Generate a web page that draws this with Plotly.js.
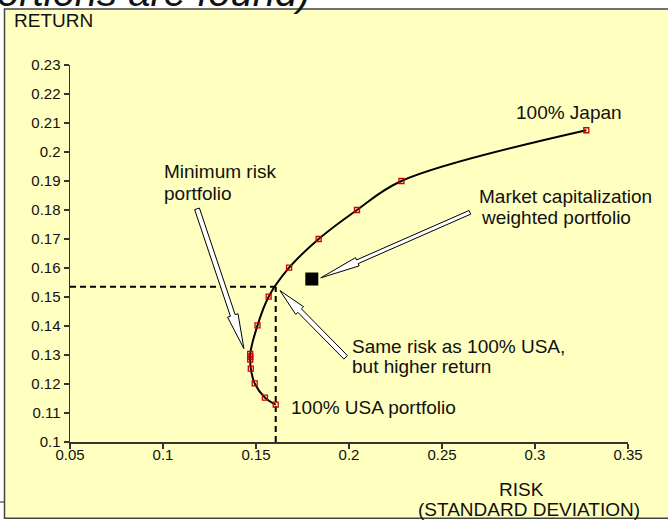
<!DOCTYPE html>
<html>
<head>
<meta charset="utf-8">
<script src="https://cdn.plot.ly/plotly-3.0.1.min.js"></script>
<style>html,body{margin:0;padding:0;background:#fff;}#chart{width:668px;height:521px;}</style>
</head>
<body>
<div id="chart"></div>
<script>
// ---- data ----
const frontierRisk   = [0.1606, 0.1548, 0.1493, 0.1472, 0.1469, 0.1469, 0.1469, 0.1508, 0.1568, 0.1678, 0.1837, 0.2043, 0.2282, 0.3276];
const frontierReturn = [0.1129, 0.1153, 0.1202, 0.1253, 0.1284, 0.1294, 0.1304, 0.1402, 0.1501, 0.1601, 0.1700, 0.1800, 0.1900, 0.2075];
const marketCapRisk = [0.180];
const marketCapReturn = [0.1562];
const sameRiskX = 0.1606;     // risk of 100% USA
const sameRiskY = 0.1535;     // higher return at same risk
const xTickVals = [0.05, 0.1, 0.15, 0.2, 0.25, 0.3, 0.35];
const xTickText = ["0.05", "0.1", "0.15", "0.2", "0.25", "0.3", "0.35"];
const yTickVals = [0.1, 0.11, 0.12, 0.13, 0.14, 0.15, 0.16, 0.17, 0.18, 0.19, 0.2, 0.21, 0.22, 0.23];
const yTickText = ["0.1", "0.11", "0.12", "0.13", "0.14", "0.15", "0.16", "0.17", "0.18", "0.19", "0.2", "0.21", "0.22", "0.23"];

// ---- geometry ----
const M = {l: 70, r: 40, t: 65, b: 79};
const WIDTH = 668, HEIGHT = 521;
const W = WIDTH - M.l - M.r, H = HEIGHT - M.t - M.b;
const xRange = [0.05, 0.35], yRange = [0.1, 0.23];
const FONT = '"Liberation Sans", Arial, sans-serif';

const px2paperX = px => (px - M.l) / W;
const px2paperY = py => (M.t + H - py) / H;
const d2px = (x, y) => [M.l + (x - xRange[0]) / (xRange[1] - xRange[0]) * W, M.t + (yRange[1] - y) / (yRange[1] - yRange[0]) * H];
const px2d = (px, py) => [xRange[0] + (px - M.l) / W * (xRange[1] - xRange[0]), yRange[1] - (py - M.t) / H * (yRange[1] - yRange[0])];

function blockArrow(tail, tip, shaftW, headW, headL) {
  const a = d2px(tail[0], tail[1]), b = d2px(tip[0], tip[1]);
  const dx = b[0] - a[0], dy = b[1] - a[1];
  const len = Math.hypot(dx, dy);
  const ux = dx / len, uy = dy / len, nx = -uy, ny = ux;
  const base = [b[0] - ux * headL, b[1] - uy * headL];
  const pts = [
    [a[0] + nx * shaftW / 2, a[1] + ny * shaftW / 2],
    [base[0] + nx * shaftW / 2, base[1] + ny * shaftW / 2],
    [base[0] + nx * headW / 2, base[1] + ny * headW / 2],
    b,
    [base[0] - nx * headW / 2, base[1] - ny * headW / 2],
    [base[0] - nx * shaftW / 2, base[1] - ny * shaftW / 2],
    [a[0] - nx * shaftW / 2, a[1] - ny * shaftW / 2]
  ].map(p => px2d(p[0], p[1]));
  const path = 'M' + pts.map(p => p[0] + ',' + p[1]).join(' L') + ' Z';
  return {type: 'path', xref: 'x', yref: 'y', path: path, fillcolor: '#ffffff',
          line: {color: '#000000', width: 1}, layer: 'above'};
}

function label(text, leftPx, baselinePx, size, extra) {
  const o = Object.assign({
    xref: 'paper', yref: 'paper', x: px2paperX(leftPx), y: px2paperY(baselinePx - 0.35 * size),
    xanchor: 'left', yanchor: 'middle', showarrow: false, text: text,
    font: {family: FONT, size: size, color: '#111111'}
  }, extra || {});
  return o;
}

const LS = 19;
const annotations = [
  label('proportions are found)', 313, 5.5, 40, {xanchor: 'right', font: {family: FONT, size: 40, color: '#111111', style: 'italic'}}),
  label('RETURN', 11.7, 27, LS),
  label('Minimum risk', 161.7, 178, LS),
  label('portfolio', 161.7, 200, LS),
  label('100% Japan', 514.3, 119.3, LS),
  label('Market capitalization', 476.7, 203.3, LS),
  label('weighted portfolio', 478.5, 224, LS),
  label('Same risk as 100% USA,', 350, 353.3, LS),
  label('but higher return', 350, 373.3, LS),
  label('100% USA portfolio', 289.3, 414.3, LS),
  label('RISK', 521, 496, LS, {xanchor: 'center'}),
  label('(STANDARD DEVIATION)', 528.8, 516.5, LS, {xanchor: 'center'})
];

const shapes = [
  {type: 'rect', xref: 'paper', yref: 'paper', layer: 'below',
   x0: px2paperX(4.5), x1: px2paperX(800), y0: px2paperY(518.3), y1: px2paperY(9),
   fillcolor: '#FFFFC0', line: {color: '#444444', width: 1.5}},
  {type: 'line', xref: 'paper', yref: 'paper', layer: 'below',
   x0: px2paperX(0), x1: px2paperX(4.5), y0: px2paperY(502), y1: px2paperY(502),
   line: {color: '#444444', width: 1.2}},
  blockArrow([0.1183, 0.1804], [0.1435, 0.1322], 5, 11, 35),
  blockArrow([0.2650, 0.1792], [0.1848, 0.1566], 4, 9, 40),
  blockArrow([0.1982, 0.1292], [0.1629, 0.1522], 5, 11, 28)
];

const traces = [
  {x: [xRange[0], sameRiskX], y: [sameRiskY, sameRiskY], mode: 'lines',
   line: {color: '#000000', width: 2, dash: '6px,4px'}, hoverinfo: 'skip', cliponaxis: false},
  {x: [sameRiskX, sameRiskX], y: [yRange[0], sameRiskY], mode: 'lines',
   line: {color: '#000000', width: 2, dash: '6px,4px'}, hoverinfo: 'skip', cliponaxis: false},
  {x: frontierRisk, y: frontierReturn, mode: 'lines+markers',
   line: {color: '#000000', width: 2, shape: 'spline', smoothing: 1},
   marker: {symbol: 'square-open', size: 5, color: '#CC0000', line: {width: 1.3, color: '#CC0000'}}},
  {x: marketCapRisk, y: marketCapReturn, mode: 'markers',
   marker: {symbol: 'square', size: 13, color: '#000000'}}
];

const axisCommon = {
  showgrid: false, zeroline: false, showline: true, linecolor: '#333333', linewidth: 1.5,
  ticks: 'outside', ticklen: 5, tickcolor: '#333333', tickwidth: 1.2,
  tickfont: {family: FONT, size: 15, color: '#111111'}, tickmode: 'array', fixedrange: true
};

const layout = {
  width: WIDTH, height: HEIGHT,
  margin: M,
  paper_bgcolor: '#ffffff', plot_bgcolor: 'rgba(0,0,0,0)',
  showlegend: false,
  xaxis: Object.assign({}, axisCommon, {range: xRange, tickvals: xTickVals, ticktext: xTickText, ticklabelstandoff: -7}),
  yaxis: Object.assign({}, axisCommon, {range: yRange, tickvals: yTickVals, ticktext: yTickText}),
  shapes: shapes,
  annotations: annotations
};

Plotly.newPlot('chart', traces, layout, {displayModeBar: false, staticPlot: true});
</script>
</body>
</html>
